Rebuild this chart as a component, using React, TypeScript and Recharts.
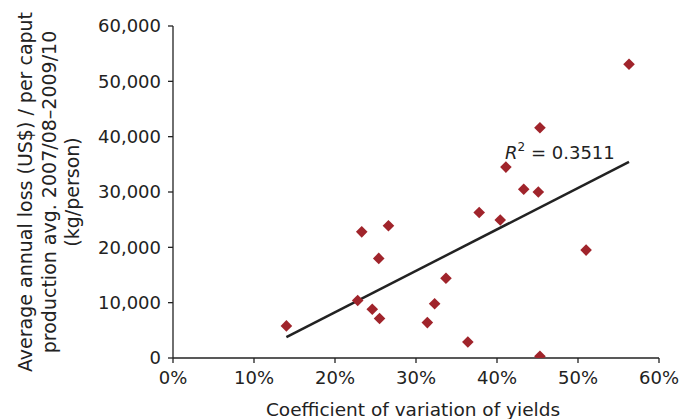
import { ScatterChart, Scatter, XAxis, YAxis } from "recharts"

// coefficient of variation of yields (%)
const cvYields = [14.0, 22.8, 23.3, 24.6, 25.4, 25.5, 26.6, 31.4, 32.3, 33.7, 36.4, 37.8, 40.4, 41.1, 43.3, 45.1, 45.3, 45.3, 51.0, 56.3]
// average annual loss per caput production (kg/person)
const annualLoss = [5800, 10400, 22800, 8800, 18000, 7150, 23900, 6400, 9800, 14400, 2900, 26300, 24950, 34500, 30500, 30000, 41600, 300, 19500, 53100]

const xTicks = [0, 10, 20, 30, 40, 50, 60]
const yTicks = [0, 10000, 20000, 30000, 40000, 50000, 60000]
const yLabelLines = ["Average annual loss (US$) / per caput", "production avg. 2007/08\u20132009/10", "(kg/person)"]
const xLabel = "Coefficient of variation of yields"
const r2Text = "0.3511"

const points = cvYields.map((x, i) => ({ x, y: annualLoss[i] }))

// least-squares trend line, like the spreadsheet one
const fitTrend = () => {
  const n = points.length
  const mx = points.reduce((a, p) => a + p.x, 0) / n
  const my = points.reduce((a, p) => a + p.y, 0) / n
  let sxy = 0
  let sxx = 0
  points.forEach((p) => {
    sxy += (p.x - mx) * (p.y - my)
    sxx += (p.x - mx) * (p.x - mx)
  })
  const slope = sxy / sxx
  const icpt = my - slope * mx
  const x0 = Math.min(...cvYields)
  const x1 = Math.max(...cvYields)
  return [
    { x: x0, y: icpt + slope * x0 },
    { x: x1, y: icpt + slope * x1 },
  ]
}

const trend = fitTrend()
const r2Anchor = [{ x: 41, y: 36000 }]

const FONT = "'DejaVu Sans', sans-serif"
const INK = "#222"

const Diamond = (props: any) => {
  const { cx, cy } = props
  const s = 5.8
  return <polygon points={`${cx},${cy - s} ${cx + s},${cy} ${cx},${cy + s} ${cx - s},${cy}`} fill="#a0242b" />
}

const R2Label = (props: any) => {
  const { cx, cy } = props
  return (
    <text x={cx} y={cy} fontSize={18} fill={INK} fontFamily={FONT}>
      <tspan fontStyle="italic">R</tspan>
      <tspan dy={-8} fontSize={12}>2</tspan>
      <tspan dy={8}>{"\u00a0= " + r2Text}</tspan>
    </text>
  )
}

const YLabel = () => {
  const baselines = [32, 55.5, 79]
  return (
    <g>
      {yLabelLines.map((t, i) => (
        <text
          key={i}
          x={-192}
          y={baselines[i]}
          transform="rotate(-90)"
          textAnchor="middle"
          fontSize={19}
          fill={INK}
          fontFamily={FONT}
        >
          {t}
        </text>
      ))}
    </g>
  )
}

const XLabel = (props: any) => {
  const { viewBox } = props
  return (
    <text x={viewBox.x + viewBox.width / 2 - 3} y={416} textAnchor="middle" fontSize={18.5} fill={INK} fontFamily={FONT}>
      {xLabel}
    </text>
  )
}

export default function App() {
  return (
    <div style={{ position: "absolute", left: 0, top: 0, background: "#fff" }}>
      <ScatterChart width={681} height={419} margin={{ top: 26, right: 22, bottom: 0, left: 0 }}>
        <XAxis
          type="number"
          dataKey="x"
          domain={[0, 60]}
          ticks={xTicks}
          tickFormatter={(v) => `${v}%`}
          height={61}
          tickSize={5}
          tickMargin={8}
          axisLine={{ stroke: INK, strokeWidth: 1.3 }}
          tickLine={{ stroke: INK, strokeWidth: 1.3 }}
          tick={{ fill: INK, fontSize: 18, fontFamily: FONT }}
          label={<XLabel />}
          allowDataOverflow
        />
        <YAxis
          type="number"
          dataKey="y"
          domain={[0, 60000]}
          ticks={yTicks}
          tickFormatter={(v) => v.toLocaleString("en-US")}
          width={173}
          tickSize={5}
          tickMargin={7}
          axisLine={{ stroke: INK, strokeWidth: 1.3 }}
          tickLine={{ stroke: INK, strokeWidth: 1.3 }}
          tick={{ fill: INK, fontSize: 18, fontFamily: FONT }}
          label={<YLabel />}
          allowDataOverflow
        />
        <Scatter data={trend} line={{ stroke: INK, strokeWidth: 2.5 }} shape={() => <g />} isAnimationActive={false} />
        <Scatter data={points} shape={<Diamond />} isAnimationActive={false} />
        <Scatter data={r2Anchor} shape={<R2Label />} isAnimationActive={false} />
      </ScatterChart>
    </div>
  )
}
